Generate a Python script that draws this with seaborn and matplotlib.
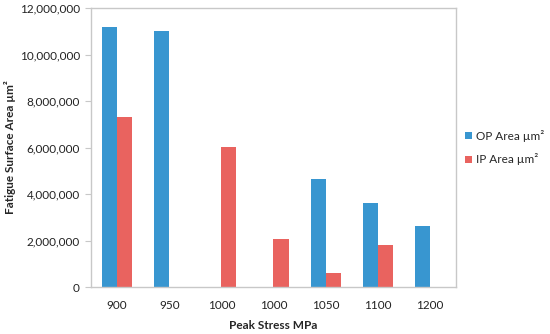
import matplotlib
matplotlib.use("Agg")
import matplotlib.pyplot as plt
import seaborn as sns
import pandas as pd
from matplotlib.ticker import FuncFormatter

# Data
stress_labels = ["900", "950", "1000", "1000", "1050", "1100", "1200"]
op_area = [11180000, 11010000, 0, 0, 4650000, 3600000, 2640000]
ip_area = [7320000, 0, 6030000, 2050000, 590000, 1810000, 0]
series_names = ["OP Area µm²", "IP Area µm²"]
colors = ["#3896D0", "#E9635F"]

# long format; use a position key because "1000" appears twice
rows = []
for i, lab in enumerate(stress_labels):
    rows.append({"pos": str(i), "series": series_names[0], "value": op_area[i]})
    rows.append({"pos": str(i), "series": series_names[1], "value": ip_area[i]})
df = pd.DataFrame(rows)

sns.set_style("white")
plt.rcParams["font.family"] = ["Lato", "DejaVu Sans"]

fig = plt.figure(figsize=(5.5, 3.34), dpi=100)
ax = fig.add_axes([0.1655, 0.1407, 0.6635, 0.8353])

sns.barplot(data=df, x="pos", y="value", hue="series",
            order=[str(i) for i in range(len(stress_labels))],
            hue_order=series_names, palette=colors, width=0.58,
            saturation=1, errorbar=None, ax=ax, linewidth=0)

ax.set_ylim(0, 12000000)
ax.set_yticks(range(0, 12000001, 2000000))
ax.yaxis.set_major_formatter(FuncFormatter(lambda v, p: f"{int(v):,}"))
ax.set_xticks(range(len(stress_labels)))
ax.set_xticklabels(stress_labels)
ax.set_xlim(-0.5, len(stress_labels) - 0.5)

for s in ax.spines.values():
    s.set_color("#C8C8C8")
    s.set_linewidth(1)
ax.tick_params(axis="y", length=4, color="#C8C8C8", labelsize=8.5,
               labelcolor="#222222", pad=4, left=True)
ax.tick_params(axis="x", length=0, labelsize=8.5, labelcolor="#222222", pad=9)

ax.set_xlabel("Peak Stress MPa", fontsize=8.5, fontweight="bold", labelpad=7)
ax.set_ylabel("Fatigue Surface Area µm²", fontsize=8.5, fontweight="bold")
ax.yaxis.set_label_coords(-0.205, 0.5)

handles, labels = ax.get_legend_handles_labels()
ax.legend(handles, labels, loc="center left", bbox_to_anchor=(1.025, 0.5),
          borderaxespad=0, borderpad=0, frameon=False, fontsize=8.5,
          handlelength=0.6, handleheight=0.6, handletextpad=0.35,
          labelspacing=1.0)

fig.savefig("out.png", dpi=100)
